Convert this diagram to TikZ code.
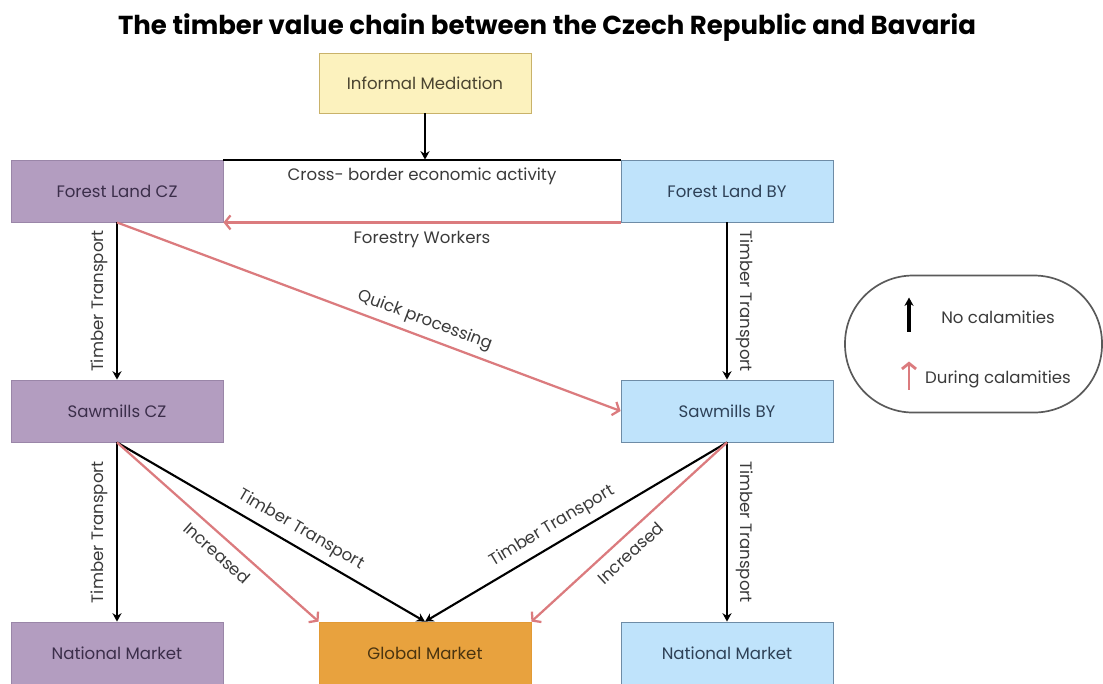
\documentclass[tikz,border=0pt]{standalone}
\usepackage{fontspec}
\setmainfont{Poppins}
\usetikzlibrary{arrows.meta}

\definecolor{czfill}{HTML}{B39DC0}
\definecolor{czline}{HTML}{9A86A8}
\definecolor{cztext}{HTML}{3B2E4A}
\definecolor{byfill}{HTML}{BFE3FB}
\definecolor{byline}{HTML}{6E8CA6}
\definecolor{bytext}{HTML}{2E4157}
\definecolor{glfill}{HTML}{E8A23E}
\definecolor{glline}{HTML}{E29A35}
\definecolor{gltext}{HTML}{4A3410}
\definecolor{medfill}{HTML}{FCF2BE}
\definecolor{medline}{HTML}{C9B26A}
\definecolor{medtext}{HTML}{4A4430}
\definecolor{calred}{HTML}{DB7B7E}
\definecolor{labeltext}{HTML}{3A3A3A}
\definecolor{legendline}{HTML}{5A5A5A}

\newcommand{\boxfont}{\fontsize{11.8}{14}\selectfont}
\newcommand{\linkfont}{\fontsize{11.8}{14}\selectfont}

\tikzstyle{block} = [rectangle, minimum width=5.3cm, minimum height=1.55cm, text centered, line width=0.6pt, font=\boxfont]
\tikzstyle{czblock} = [block, fill=czfill, draw=czline, text=cztext]
\tikzstyle{byblock} = [block, fill=byfill, draw=byline, text=bytext]
\tikzstyle{arrow} = [line width=1.5pt, -{Stealth[length=6pt, width=6.5pt]}]
\tikzstyle{red_arrow} = [line width=1.6pt, draw=calred, -{Straight Barb[length=4pt, width=10pt]}]
\tikzstyle{link_label} = [font=\linkfont, text=labeltext]

\begin{document}
\begin{tikzpicture}[node distance=5.5cm]

    \useasboundingbox (0,0) rectangle (27.575,-17.075);

    % Draw nodes
    \node (forestcz) [czblock] at (2.925,-4.775) {Forest Land CZ};
    \node (sawcz) [czblock, below of=forestcz] {Sawmills CZ};
    \node (natcz) [czblock, below of=sawcz, yshift=-0.55cm] {National Market};
    \node (forestby) [byblock, right of=forestcz, xshift=9.75cm] {Forest Land BY};
    \node (sawby) [byblock, below of=forestby] {Sawmills BY};
    \node (natby) [byblock, below of=sawby, yshift=-0.55cm] {National Market};
    \node (global) [block, fill=glfill, draw=glline, text=gltext, right of=natcz, xshift=2.2cm] {Global Market};
    \node (mediation) [block, fill=medfill, draw=medline, text=medtext, minimum height=1.5cm, above of=forestcz, xshift=7.7cm, yshift=-2.8cm] {Informal Mediation};
    \node (title) [font=\fontsize{18.5}{22}\selectfont\bfseries, above of=mediation, xshift=3.05cm, yshift=-4.125cm] {The timber value chain between the Czech Republic and Bavaria};

    % Legend
    \node (legend) [draw=legendline, line width=1.2pt, rounded corners=1.7cm, minimum width=6.425cm, minimum height=3.425cm, right of=sawby, xshift=0.6625cm, yshift=1.675cm] {};
    \coordinate (nocal_start) at ([xshift=-1.6125cm, yshift=0.3125cm]legend.center);
    \coordinate (nocal_end) at ([xshift=-1.6125cm, yshift=1.1625cm]legend.center);
    \coordinate (cal_start) at ([xshift=-1.6125cm, yshift=-1.1375cm]legend.center);
    \coordinate (cal_end) at ([xshift=-1.6125cm, yshift=-0.4375cm]legend.center);
    \node (nocal_text) [link_label] at ([xshift=0.6125cm, yshift=0.6625cm]legend.center) {No calamities};
    \node (cal_text) [link_label] at ([xshift=0.6125cm, yshift=-0.8875cm]legend.center) {During calamities};
    \draw [arrow, line width=2.2pt] (nocal_start) -- (nocal_end);
    \draw [red_arrow, line width=2pt] (cal_start) -- (cal_end);

    % Draw connections
    \draw [arrow] (mediation) -- (mediation |- forestcz.north);
    \draw [line width=1.5pt] (forestcz.north east) -- (forestby.north west) node[midway, below=2pt, link_label] {Cross- border economic activity};
    \draw [red_arrow] (forestby.south west) -- (forestcz.south east) node[midway, below=2pt, link_label] {Forestry Workers};
    \draw [arrow] (forestcz) -- (sawcz) node[midway, rotate=90, anchor=south, inner sep=6pt, link_label] {Timber Transport};
    \draw [arrow] (forestby) -- (sawby) node[midway, rotate=-90, anchor=south, inner sep=6pt, link_label] {Timber Transport};
    \draw [red_arrow] (forestcz.south) -- (sawby.west) node[pos=0.6, sloped, above=1pt, link_label] {Quick processing};
    \draw [arrow] (sawcz) -- (natcz) node[midway, rotate=90, anchor=south, inner sep=6pt, link_label] {Timber Transport};
    \draw [arrow] (sawby) -- (natby) node[midway, rotate=-90, anchor=south, inner sep=6pt, link_label] {Timber Transport};
    \draw [arrow] (sawcz.south) -- (global.north) node[pos=0.57, sloped, above=2pt, link_label] {Timber Transport};
    \draw [red_arrow] (sawcz.south) -- (global.north west) node[pos=0.55, sloped, below=3pt, link_label] {Increased};
    \draw [arrow] (sawby.south) -- (global.north) node[pos=0.55, sloped, above=2pt, link_label] {Timber Transport};
    \draw [red_arrow] (sawby.south) -- (global.north east) node[pos=0.55, sloped, below=3pt, link_label] {Increased};

\end{tikzpicture}
\end{document}
